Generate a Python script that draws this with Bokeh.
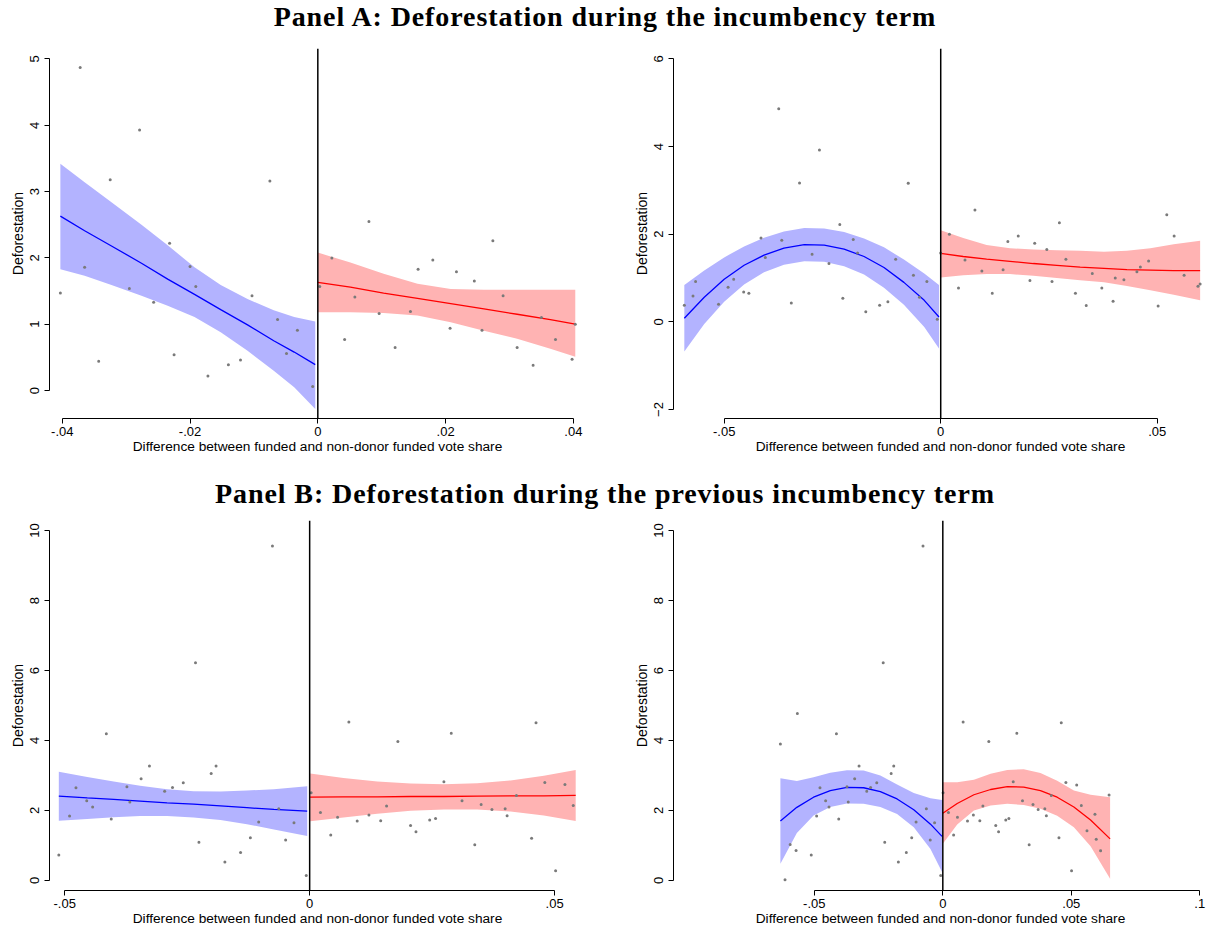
from bokeh.plotting import figure
from bokeh.models import Range1d, FixedTicker, Span, Div, CustomJSTickFormatter
from bokeh.layouts import column, row
from bokeh.embed import file_html
from bokeh.resources import INLINE

FONT = "Liberation Sans"
BLUE_FILL, BLUE_LINE = "#b3b3ff", "#0000ff"
RED_FILL, RED_LINE = "#ffb3b3", "#ff0000"
DOT = "#7a7a7a"

TITLE_A = "Panel A: Deforestation during the incumbency term"
TITLE_B = "Panel B: Deforestation during the previous incumbency term"
X_LABEL = "Difference between funded and non-donor funded vote share"
Y_LABEL = "Deforestation"

# ---------------- Panel A, left ----------------
a1_left_x = [-0.0403, -0.0372, -0.0365, -0.0343, -0.0325, -0.0295, -0.0279, -0.0257, -0.0232, -0.0225,
             -0.0200, -0.0191, -0.0172, -0.0140, -0.0121, -0.0103, -0.0075, -0.0063, -0.0049, -0.0032, -0.0008]
a1_left_y = [1.47, 4.87, 1.86, 0.44, 3.18, 1.54, 3.93, 1.33, 2.22, 0.54,
             1.87, 1.57, 0.22, 0.39, 0.46, 1.43, 3.16, 1.07, 0.56, 0.91, 0.06]
a1_right_x = [0.0003, 0.0022, 0.0042, 0.0058, 0.0080, 0.0096, 0.0121, 0.0145, 0.0157, 0.0180, 0.0207,
              0.0217, 0.0245, 0.0257, 0.0274, 0.0290, 0.0312, 0.0337, 0.0350, 0.0372, 0.0398, 0.0403]
a1_right_y = [1.57, 2.00, 0.77, 1.41, 2.55, 1.16, 0.65, 1.19, 1.83, 1.97, 0.94,
              1.79, 1.65, 0.91, 2.26, 1.43, 0.65, 0.38, 1.10, 0.77, 0.47, 1.00]
a1_lfit_x = [-0.0403, -0.0365, -0.0323, -0.0276, -0.0235, -0.0193, -0.0152, -0.0110, -0.0069, -0.0037, -0.0004]
a1_lfit_y = [2.63, 2.41, 2.18, 1.92, 1.68, 1.45, 1.22, 0.99, 0.75, 0.58, 0.39]
a1_lfit_hi = [3.42, 3.14, 2.84, 2.50, 2.19, 1.86, 1.59, 1.38, 1.21, 1.11, 1.04]
a1_lfit_lo = [1.83, 1.73, 1.59, 1.43, 1.28, 1.11, 0.88, 0.60, 0.30, 0.05, -0.28]
a1_rfit_x = [0.0, 0.0051, 0.0103, 0.0156, 0.0208, 0.0260, 0.0312, 0.0364, 0.0403]
a1_rfit_y = [1.63, 1.56, 1.47, 1.39, 1.31, 1.23, 1.15, 1.07, 1.00]
a1_rfit_hi = [2.08, 1.93, 1.76, 1.61, 1.53, 1.52, 1.52, 1.52, 1.52]
a1_rfit_lo = [1.18, 1.18, 1.17, 1.13, 1.03, 0.90, 0.78, 0.63, 0.51]

# ---------------- Panel A, right ----------------
a2_left_x = [-0.0592, -0.0572, -0.0566, -0.0513, -0.0491, -0.0478, -0.0455, -0.0443, -0.0415, -0.0405,
             -0.0374, -0.0367, -0.0345, -0.0326, -0.0297, -0.0280, -0.0258, -0.0233, -0.0226, -0.0202,
             -0.0192, -0.0173, -0.0141, -0.0122, -0.0104, -0.0075, -0.0063, -0.0049, -0.0032, -0.0008]
a2_left_y = [0.38, 0.59, 0.92, 0.40, 0.79, 0.97, 0.68, 0.65, 1.91, 1.47,
             4.86, 1.86, 0.43, 3.17, 1.54, 3.92, 1.33, 2.22, 0.54, 1.88,
             1.57, 0.23, 0.38, 0.46, 1.43, 3.16, 1.06, 0.56, 0.92, 0.06]
a2_right_x = [0.0000, 0.0020, 0.0041, 0.0056, 0.0079, 0.0095, 0.0119, 0.0144, 0.0155, 0.0179, 0.0206,
              0.0217, 0.0245, 0.0257, 0.0274, 0.0289, 0.0311, 0.0336, 0.0350, 0.0372, 0.0398, 0.0403,
              0.0423, 0.0453, 0.0461, 0.0480, 0.0502, 0.0522, 0.0539, 0.0562, 0.0594, 0.0599]
a2_right_y = [1.57, 2.00, 0.77, 1.41, 2.55, 1.16, 0.65, 1.19, 1.83, 1.96, 0.94,
              1.79, 1.65, 0.92, 2.26, 1.43, 0.65, 0.37, 1.10, 0.77, 0.47, 1.00,
              0.96, 1.14, 1.25, 1.39, 0.36, 2.44, 1.96, 1.06, 0.81, 0.86]
a2_lfit_x = [-0.0592, -0.0546, -0.0500, -0.0454, -0.0408, -0.0362, -0.0315,
             -0.0269, -0.0223, -0.0177, -0.0131, -0.0085, -0.0038, -0.0004]
a2_lfit_y = [0.08, 0.56, 0.97, 1.29, 1.52, 1.68, 1.76, 1.75, 1.66, 1.49, 1.24, 0.90, 0.49, 0.11]
a2_lfit_hi = [0.84, 1.17, 1.47, 1.72, 1.92, 2.06, 2.14, 2.13, 2.05, 1.90, 1.70, 1.42, 1.10, 0.84]
a2_lfit_lo = [-0.68, -0.05, 0.46, 0.85, 1.13, 1.30, 1.38, 1.37, 1.27, 1.08, 0.78, 0.39, -0.12, -0.61]
a2_rfit_x = [0.0, 0.0052, 0.0106, 0.0160, 0.0214, 0.0268, 0.0322, 0.0377, 0.0430, 0.0484, 0.0538, 0.0599]
a2_rfit_y = [1.56, 1.49, 1.43, 1.38, 1.33, 1.29, 1.25, 1.22, 1.19, 1.18, 1.17, 1.17]
a2_rfit_hi = [2.09, 1.91, 1.75, 1.68, 1.65, 1.63, 1.62, 1.60, 1.62, 1.68, 1.77, 1.85]
a2_rfit_lo = [1.01, 1.06, 1.09, 1.09, 1.05, 1.00, 0.95, 0.90, 0.82, 0.72, 0.62, 0.49]

# ---------------- Panel B, left ----------------
b1_left_x = [-0.0512, -0.0490, -0.0477, -0.0455, -0.0443, -0.0415, -0.0405, -0.0373, -0.0367, -0.0344,
             -0.0327, -0.0296, -0.0280, -0.0258, -0.0233, -0.0226, -0.0201, -0.0191, -0.0173, -0.0141,
             -0.0121, -0.0104, -0.0076, -0.0063, -0.0049, -0.0032, -0.0007]
b1_left_y = [0.73, 1.84, 2.65, 2.28, 2.10, 4.19, 1.76, 2.68, 2.24, 2.91,
             3.27, 2.55, 2.66, 2.79, 6.22, 1.09, 3.06, 3.27, 0.53, 0.80,
             1.22, 1.67, 9.56, 2.05, 1.16, 1.65, 0.14]
b1_right_x = [0.0003, 0.0022, 0.0043, 0.0057, 0.0080, 0.0097, 0.0121, 0.0145, 0.0157, 0.0180,
              0.0206, 0.0217, 0.0245, 0.0257, 0.0274, 0.0289, 0.0311, 0.0337, 0.0350, 0.0372,
              0.0399, 0.0403, 0.0422, 0.0453, 0.0462, 0.0480, 0.0502, 0.0521, 0.0538]
b1_right_y = [2.51, 1.94, 1.30, 1.81, 4.53, 1.70, 1.87, 1.71, 2.13, 3.97,
              1.57, 1.39, 1.73, 1.77, 2.82, 4.21, 2.28, 1.02, 2.17, 2.03,
              2.05, 1.85, 2.43, 1.21, 4.51, 2.80, 0.28, 2.74, 2.14]
b1_lfit_x = [-0.0512, -0.0454, -0.0400, -0.0346, -0.0291, -0.0237, -0.0182, -0.0128, -0.0073, -0.0005]
b1_lfit_y = [2.41, 2.36, 2.32, 2.27, 2.22, 2.18, 2.13, 2.08, 2.03, 1.98]
b1_lfit_hi = [3.11, 2.96, 2.83, 2.71, 2.61, 2.55, 2.54, 2.57, 2.61, 2.69]
b1_lfit_lo = [1.71, 1.76, 1.81, 1.84, 1.84, 1.80, 1.73, 1.61, 1.46, 1.27]
b1_rfit_x = [0.0001, 0.0069, 0.0138, 0.0206, 0.0274, 0.0342, 0.0410, 0.0478, 0.0543]
b1_rfit_y = [2.38, 2.39, 2.39, 2.40, 2.40, 2.41, 2.42, 2.42, 2.43]
b1_rfit_hi = [3.06, 2.93, 2.83, 2.77, 2.75, 2.78, 2.86, 2.99, 3.16]
b1_rfit_lo = [1.69, 1.80, 1.91, 1.99, 2.03, 2.03, 1.97, 1.86, 1.70]

# ---------------- Panel B, right ----------------
b2_left_x = [-0.0632, -0.0614, -0.0594, -0.0571, -0.0566, -0.0512, -0.0491, -0.0478, -0.0456, -0.0443,
             -0.0414, -0.0405, -0.0373, -0.0368, -0.0343, -0.0326, -0.0296, -0.0281, -0.0257, -0.0232,
             -0.0226, -0.0201, -0.0191, -0.0173, -0.0142, -0.0121, -0.0104, -0.0077, -0.0064, -0.0049,
             -0.0032, -0.0008]
b2_left_y = [3.90, 0.02, 1.03, 0.86, 4.77, 0.73, 1.84, 2.65, 2.28, 2.10,
             4.19, 1.76, 2.68, 2.24, 2.91, 3.27, 2.55, 2.66, 2.79, 6.22,
             1.09, 3.06, 3.27, 0.53, 0.80, 1.22, 1.67, 9.56, 2.05, 1.16,
             1.65, 0.14]
b2_right_x = [0.0001, 0.0022, 0.0042, 0.0057, 0.0079, 0.0096, 0.0119, 0.0144, 0.0156, 0.0179,
              0.0206, 0.0217, 0.0245, 0.0257, 0.0274, 0.0288, 0.0310, 0.0336, 0.0351, 0.0371,
              0.0397, 0.0403, 0.0422, 0.0452, 0.0461, 0.0479, 0.0501, 0.0521, 0.0539, 0.0561,
              0.0592, 0.0597, 0.0614, 0.0647]
b2_right_y = [2.51, 1.94, 1.30, 1.81, 4.53, 1.70, 1.87, 1.71, 2.13, 3.97,
              1.57, 1.39, 1.73, 1.77, 2.82, 4.21, 2.28, 1.02, 2.17, 2.03,
              2.05, 1.85, 2.43, 1.22, 4.51, 2.80, 0.28, 2.73, 2.14, 1.42,
              1.89, 1.18, 0.85, 2.44]
b2_lfit_x = [-0.0632, -0.0568, -0.0503, -0.0438, -0.0373, -0.0308, -0.0243, -0.0178, -0.0113, -0.0048, -0.0003]
b2_lfit_y = [1.70, 2.09, 2.38, 2.57, 2.66, 2.65, 2.54, 2.33, 2.02, 1.61, 1.26]
b2_lfit_hi = [2.92, 2.84, 2.95, 3.08, 3.15, 3.14, 3.00, 2.74, 2.50, 2.35, 2.30]
b2_lfit_lo = [0.48, 1.36, 1.86, 2.10, 2.20, 2.19, 2.10, 1.90, 1.52, 0.90, 0.24]
b2_rfit_x = [0.0, 0.0056, 0.0121, 0.0186, 0.0251, 0.0315, 0.0380, 0.0445, 0.0510, 0.0575, 0.0651]
b2_rfit_y = [1.92, 2.20, 2.45, 2.60, 2.68, 2.67, 2.57, 2.38, 2.10, 1.73, 1.19]
b2_rfit_hi = [2.81, 2.81, 2.88, 3.05, 3.16, 3.18, 3.07, 2.85, 2.57, 2.45, 2.38]
b2_rfit_lo = [1.05, 1.60, 2.00, 2.14, 2.19, 2.16, 2.05, 1.85, 1.52, 0.98, 0.05]

# tick values / labels
a1_xticks, a1_xlabels = [-0.04, -0.02, 0, 0.02, 0.04], ["-.04", "-.02", "0", ".02", ".04"]
a2_xticks, a2_xlabels = [-0.05, 0, 0.05], ["-.05", "0", ".05"]
b1_xticks, b1_xlabels = [-0.05, 0, 0.05], ["-.05", "0", ".05"]
b2_xticks, b2_xlabels = [-0.05, 0, 0.05, 0.1], ["-.05", "0", ".05", ".1"]
a1_yticks = [0, 1, 2, 3, 4, 5]
a2_yticks = [-2, 0, 2, 4, 6]
b_yticks = [0, 2, 4, 6, 8, 10]


def make_panel(xr, yr, left_col, top_row, xticks, xlabels, yticks,
               lpts, rpts, lfit, rfit):
    fw = 536 if left_col else 534
    p = figure(x_range=Range1d(*xr), y_range=Range1d(*yr),
               frame_width=fw, frame_height=370,
               output_backend="svg", toolbar_location=None, tools="")
    p.min_border_left = 49 if left_col else 73
    p.min_border_right = 15 if left_col else 5
    p.min_border_top = 14 if top_row else 6
    p.min_border_bottom = 40 if top_row else 38
    p.outline_line_color = None
    p.background_fill_color = "white"
    p.border_fill_color = "white"
    p.xgrid.visible = False
    p.ygrid.visible = False

    for (fx, fy, lo, hi), fill in ((lfit, BLUE_FILL), (rfit, RED_FILL)):
        p.varea(x=fx, y1=lo, y2=hi, fill_color=fill, fill_alpha=1.0)
    for (fx, fy, lo, hi), col in ((lfit, BLUE_LINE), (rfit, RED_LINE)):
        p.line(fx, fy, line_color=col, line_width=1.3)
    for px, py in (lpts, rpts):
        p.scatter(px, py, marker="circle", size=3, fill_color=DOT, line_color=None)
    p.add_layout(Span(location=0, dimension="height", line_color="black", line_width=1.5))

    xa = p.xaxis[0]
    xa.ticker = FixedTicker(ticks=xticks)
    xa.formatter = CustomJSTickFormatter(
        args=dict(tvals=xticks, tlabs=xlabels),
        code="const i = tvals.findIndex(t => Math.abs(t - tick) < 1e-9); return i >= 0 ? tlabs[i] : '';")
    xa.bounds = (xticks[0], xticks[-1])
    xa.axis_label = X_LABEL

    ya = p.yaxis[0]
    ya.ticker = FixedTicker(ticks=yticks)
    ya.bounds = (yticks[0], yticks[-1])
    ya.axis_label = Y_LABEL
    ya.major_label_orientation = "vertical"

    for ax in (xa, ya):
        ax.axis_line_color = "black"
        ax.axis_line_width = 1
        ax.major_tick_line_color = "black"
        ax.major_tick_out = 5
        ax.major_tick_in = 0
        ax.minor_tick_out = 0
        ax.minor_tick_in = 0
        ax.major_label_text_font = FONT
        ax.major_label_text_font_size = "13px"
        ax.major_label_text_color = "black"
        ax.axis_label_text_font = FONT
        ax.axis_label_text_font_style = "normal"
        ax.axis_label_text_color = "black"
    xa.major_label_standoff = 3
    xa.axis_label_standoff = 0
    xa.axis_label_text_font_size = "13.7px"
    ya.major_label_standoff = 5
    ya.axis_label_standoff = 2
    ya.axis_label_text_font_size = "14px"
    return p


tl = make_panel((-0.0420, 0.0419), (-0.422, 5.158), True, True, a1_xticks, a1_xlabels, a1_yticks,
                (a1_left_x, a1_left_y), (a1_right_x, a1_right_y),
                (a1_lfit_x, a1_lfit_y, a1_lfit_lo, a1_lfit_hi), (a1_rfit_x, a1_rfit_y, a1_rfit_lo, a1_rfit_hi))
tr = make_panel((-0.0617, 0.0616), (-2.206, 6.236), False, True, a2_xticks, a2_xlabels, a2_yticks,
                (a2_left_x, a2_left_y), (a2_right_x, a2_right_y),
                (a2_lfit_x, a2_lfit_y, a2_lfit_lo, a2_lfit_hi), (a2_rfit_x, a2_rfit_y, a2_rfit_lo, a2_rfit_hi))
bl = make_panel((-0.0531, 0.0563), (-0.286, 10.286), True, False, b1_xticks, b1_xlabels, b_yticks,
                (b1_left_x, b1_left_y), (b1_right_x, b1_right_y),
                (b1_lfit_x, b1_lfit_y, b1_lfit_lo, b1_lfit_hi), (b1_rfit_x, b1_rfit_y, b1_rfit_lo, b1_rfit_hi))
br = make_panel((-0.1048, 0.1030), (-0.286, 10.286), False, False, b2_xticks, b2_xlabels, b_yticks,
                (b2_left_x, b2_left_y), (b2_right_x, b2_right_y),
                (b2_lfit_x, b2_lfit_y, b2_lfit_lo, b2_lfit_hi), (b2_rfit_x, b2_rfit_y, b2_rfit_lo, b2_rfit_hi))


def title_div(text, height, pad):
    html = ('<div style="width:1210px;text-align:center;font-family:\'Liberation Serif\';'
            'font-weight:bold;font-size:28px;letter-spacing:0.9px;line-height:20px;'
            f'padding-top:{pad}px;margin:0;color:#000;">{text}</div>')
    return Div(text=html, width=1210, height=height, margin=(0, 0, 0, 0))


layout = column(title_div(TITLE_A, 34, 7), row(tl, tr), title_div(TITLE_B, 56, 26), row(bl, br))

open("out.html", "w").write(file_html(layout, INLINE))
